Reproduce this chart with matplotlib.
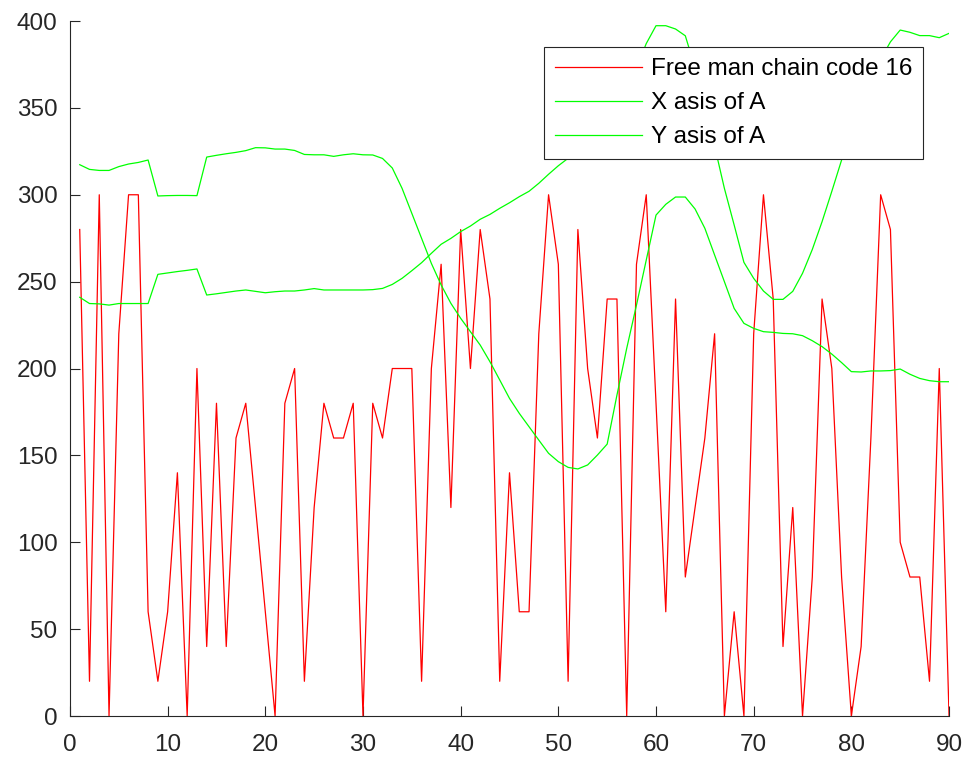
import numpy as np
import matplotlib
matplotlib.use('Agg')
import matplotlib.pyplot as plt

plt.rcParams['font.family'] = ['Liberation Sans', 'DejaVu Sans']

# sample index 1..90
idx = np.arange(1, 91)

# freeman chain code (16 directions, scaled by 20)
chain_code = [280, 20, 300, 0, 220, 300, 300, 60, 20, 60,
              140, 0, 200, 40, 180, 40, 160, 180, 120, 60,
              0, 180, 200, 20, 120, 180, 160, 160, 180, 0,
              180, 160, 200, 200, 200, 20, 200, 260, 120, 280,
              200, 280, 240, 20, 140, 60, 60, 220, 300, 260,
              20, 280, 200, 160, 240, 240, 0, 260, 300, 180,
              60, 240, 80, 120, 160, 220, 0, 60, 0, 220,
              300, 240, 40, 120, 0, 80, 240, 200, 80, 0,
              40, 160, 300, 280, 100, 80, 80, 20, 200, 0]

x_axis_A = [317.3, 314.6, 314.0, 314.0, 316.2, 317.7, 318.6, 320.0, 299.3, 299.5,
            299.6, 299.6, 299.5, 321.7, 322.7, 323.6, 324.4, 325.4, 327.1, 327.0,
            326.3, 326.3, 325.5, 323.2, 323.0, 323.0, 322.1, 323.0, 323.6, 323.0,
            322.9, 320.9, 315.4, 303.7, 289.3, 274.9, 260.5, 248.1, 237.5, 228.9,
            221.2, 213.5, 203.9, 193.4, 182.8, 174.2, 166.5, 158.8, 151.2, 146.4,
            143.1, 142.2, 144.5, 150.2, 156.5, 184.7, 211.6, 236.5, 262.4, 288.3,
            294.5, 298.7, 298.7, 291.8, 280.7, 265.3, 250.0, 234.6, 226.0, 223.1,
            221.2, 220.8, 220.2, 220.0, 218.9, 216.0, 212.6, 208.3, 203.4, 198.2,
            198.0, 198.6, 198.6, 198.8, 199.7, 196.7, 194.3, 193.0, 192.4, 192.4]

y_axis_A = [241.0, 237.4, 237.2, 236.5, 237.4, 237.4, 237.4, 237.4, 254.2, 255.0,
            255.8, 256.5, 257.3, 242.3, 243.0, 243.8, 244.6, 245.2, 244.4, 243.6,
            244.2, 244.6, 244.6, 245.2, 246.0, 245.2, 245.2, 245.2, 245.2, 245.2,
            245.4, 246.1, 248.4, 251.9, 256.3, 260.9, 266.3, 271.5, 274.9, 278.8,
            282.0, 285.9, 288.7, 292.2, 295.4, 298.9, 302.0, 306.6, 311.8, 316.7,
            321.0, 327.0, 333.0, 340.0, 347.0, 355.0, 363.0, 373.0, 387.0, 397.3,
            397.3, 395.4, 391.5, 373.0, 352.0, 328.0, 303.7, 282.6, 261.1, 251.9,
            244.6, 239.8, 239.8, 244.4, 254.8, 268.5, 284.5, 302.0, 320.0, 338.0,
            354.0, 367.0, 378.0, 388.0, 394.8, 393.5, 391.6, 391.6, 390.4, 392.9]

fig = plt.figure(figsize=(9.69, 7.64), dpi=100)
ax = fig.add_axes([0.0722, 0.0628, 0.9072, 0.9097])

ax.plot(idx, chain_code, color='#ff0000', lw=0.9, label='Free man chain code 16')
ax.plot(idx, x_axis_A, color='#00ff00', lw=0.9, label='X asis of A')
ax.plot(idx, y_axis_A, color='#00ff00', lw=0.9, label='Y asis of A')

ax.set_xlim(0, 90)
ax.set_ylim(0, 400)
ax.set_xticks(range(0, 91, 10))
ax.set_yticks(range(0, 401, 50))

for s in ['top', 'right']:
    ax.spines[s].set_visible(False)
for s in ['left', 'bottom']:
    ax.spines[s].set_color('#262626')
    ax.spines[s].set_linewidth(0.8)
ax.tick_params(direction='in', length=7, width=0.8, color='#262626',
               labelcolor='#262626', labelsize=17.5)
ax.tick_params(axis='x', pad=13)
ax.tick_params(axis='y', pad=9)

leg = ax.legend(loc='upper right', bbox_to_anchor=(0.970, 0.962), borderaxespad=0,
                fontsize=17.5, fancybox=False, framealpha=1, edgecolor='#262626',
                handlelength=3.6, handletextpad=0.35, labelspacing=0.5,
                borderpad=0.44)
leg.get_frame().set_linewidth(0.8)

fig.savefig('out.png', dpi=100)
